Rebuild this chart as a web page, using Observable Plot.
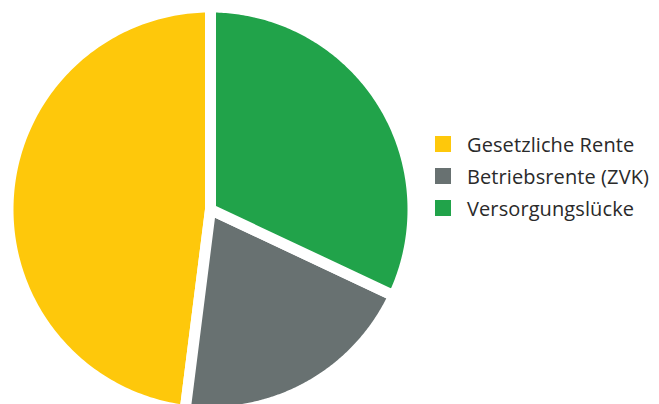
<!DOCTYPE html>
<html>
<head>
<meta charset="utf-8">
<script src="https://cdn.jsdelivr.net/npm/d3@7"></script>
<script src="https://cdn.jsdelivr.net/npm/@observablehq/plot@0.6"></script>
<style>
  html, body { margin: 0; padding: 0; background: #fff; }
  #wrap { position: relative; width: 659px; height: 404px; overflow: hidden; }
  #legend { position: absolute; left: 435px; top: 128px; font-family: "Open Sans", Lato, sans-serif; font-size: 20px; letter-spacing: 0.1px; color: #2a2a2a; }
  .row { display: flex; align-items: center; height: 32px; }
  .sw { width: 16px; height: 16px; margin-right: 16px; flex: none; }
</style>
</head>
<body>
<div id="wrap"></div>
<script>
const categories = ["Gesetzliche Rente", "Betriebsrente (ZVK)", "Versorgungslücke"];
const shares = [48, 20, 32];
const colors = ["#FEC80B", "#687171", "#21A34A"];

// build slice outlines (counterclockwise from 12 o'clock)
const points = [];
let cum = 0;
const N = 180;
categories.forEach((cat, i) => {
  const a0 = -cum / 100 * 2 * Math.PI;
  const a1 = -(cum + shares[i]) / 100 * 2 * Math.PI;
  points.push({cat, x: 0, y: 0});
  for (let t = 0; t <= N; t++) {
    const a = a0 + (a1 - a0) * t / N;
    points.push({cat, x: Math.sin(a), y: Math.cos(a)});
  }
  cum += shares[i];
});

const chart = Plot.plot({
  width: 659,
  height: 404,
  margin: 0,
  x: {domain: [-1, 1], range: [7.5, 412.5], axis: null},
  y: {domain: [-1, 1], range: [411.5, 6.5], axis: null},
  color: {domain: categories, range: colors},
  marks: [
    Plot.line(points, {x: "x", y: "y", z: "cat", fill: "cat", stroke: "white", strokeWidth: 11, strokeLinejoin: "round", curve: "linear-closed"})
  ]
});
const wrap = document.getElementById("wrap");
wrap.appendChild(chart);

const legend = document.createElement("div");
legend.id = "legend";
categories.forEach((cat, i) => {
  const row = document.createElement("div");
  row.className = "row";
  const sw = document.createElement("div");
  sw.className = "sw";
  sw.style.background = colors[i];
  const label = document.createElement("span");
  label.textContent = cat;
  row.appendChild(sw);
  row.appendChild(label);
  legend.appendChild(row);
});
wrap.appendChild(legend);
</script>
</body>
</html>
